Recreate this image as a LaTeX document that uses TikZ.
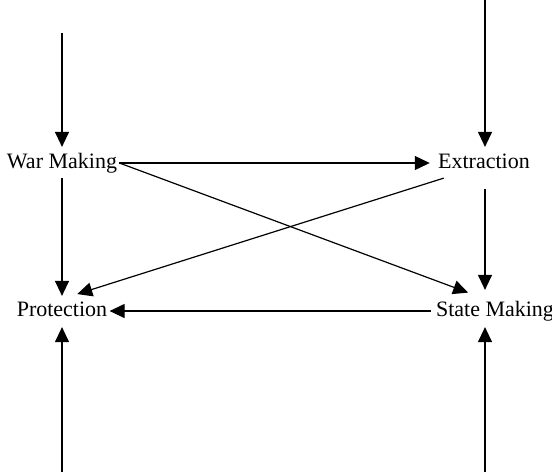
\documentclass[tikz,border=0pt]{standalone}
\usepackage{fontspec}
\setmainfont{Liberation Serif}
\usetikzlibrary{arrows.meta}
\begin{document}
\begin{tikzpicture}[x=0.5pt,y=-0.5pt,
  lbl/.style={font=\fontsize{11}{13}\selectfont, inner sep=1pt, text height=7.5pt, text depth=2.2pt},
  arr/.style={-{Triangle[length=7.5pt,width=7pt]}, line width=0.6pt}]
\useasboundingbox (0,0) rectangle (552,472);
\node[lbl] (wm) at (62,163) {War Making};
\node[lbl] (ex) at (484,163) {Extraction};
\node[lbl] (pr) at (62,311) {Protection};
\node[lbl] (sm) at (495,311) {State Making};
\coordinate (tl) at (62,33);
\coordinate (tr) at (485,0);
\coordinate (bl) at (62,472);
\coordinate (br) at (485,472);
% outer inputs
\draw[arr, shorten >=2pt] (tl) -- (wm.north);
\draw[arr, shorten >=2pt] (tr) -- (tr |- ex.north);
\draw[arr, shorten >=2pt] (bl) -- (pr.south);
\draw[arr, shorten >=2pt] (br) -- (br |- sm.south);
% internal
\draw[arr, shorten >=3pt] (wm.east) -- (ex.west);
\draw[arr, shorten >=9pt] (wm.east) -- (tr |- sm.north);
\draw[arr, shorten <=1.5pt, shorten >=1.5pt] (wm.south) -- (pr.north);
\draw[arr, shorten <=7pt, shorten >=4.5pt] (tr |- ex.south) -- (tr |- sm.north);
\draw[arr, shorten >=8pt] ([xshift=4pt,yshift=-1.5pt]ex.south west) -- (pr.north);
\draw[arr, shorten <=1.5pt] (sm.west) -- (pr.east);
\end{tikzpicture}
\end{document}
